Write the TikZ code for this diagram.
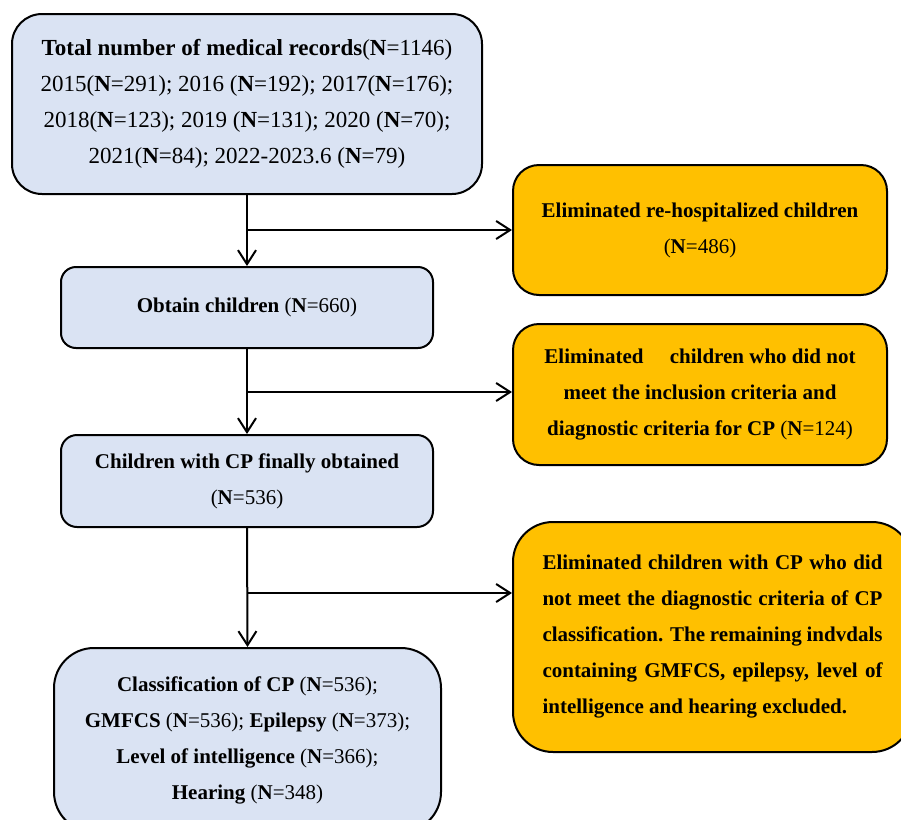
\documentclass[tikz,border=0pt]{standalone}
\usepackage{fontspec}
\setmainfont{Liberation Serif}
\usetikzlibrary{arrows.meta}
\definecolor{boxBlue}{HTML}{DAE3F3}
\definecolor{boxOrange}{HTML}{FFC000}
\begin{document}
\begin{tikzpicture}[x=0.5pt, y=-0.5pt, blueStyle/.style={rectangle, draw, line width=1pt, fill=boxBlue, align=center, font=\fontsize{10.5}{18}\selectfont}, orangeStyle/.style={rectangle, draw, line width=1pt, fill=boxOrange, align=center, font=\fontsize{10.5}{18}\selectfont\bfseries}, flowLine/.style={line width=1pt, -{Straight Barb[length=7pt, width=9pt, line width=1pt]}}]
    \useasboundingbox (0,0) rectangle (901,820);
    % left column
    \node[blueStyle, minimum width=235pt, minimum height=90pt, rounded corners=15pt, font=\fontsize{11.5}{18}\selectfont] (records) at (247,104) {\textbf{Total number of medical records}(\textbf{N}=1146)\\ 2015(\textbf{N}=291); 2016 (\textbf{N}=192); 2017(\textbf{N}=176);\\ 2018(\textbf{N}=123); 2019 (\textbf{N}=131); 2020 (\textbf{N}=70);\\ 2021(\textbf{N}=84); 2022-2023.6 (\textbf{N}=79)};
    \node[blueStyle, minimum width=186pt, minimum height=40.5pt, rounded corners=7.5pt] (obtained) at (247,307.5) {\textbf{Obtain children} (\textbf{N}=660)};
    \node[blueStyle, minimum width=186pt, minimum height=46pt, rounded corners=8pt] (finalCP) at (247,481) {\textbf{Children with CP finally obtained}\\ (\textbf{N}=536)};
    \node[blueStyle, minimum width=193.5pt, minimum height=92pt, rounded corners=20pt] (classes) at (247.5,740) {\textbf{Classification of CP} (\textbf{N}=536);\\ \textbf{GMFCS} (\textbf{N}=536); \textbf{Epilepsy} (\textbf{N}=373);\\ \textbf{Level of intelligence} (\textbf{N}=366);\\ \textbf{Hearing} (\textbf{N}=348)};
    % right column
    \node[orangeStyle, minimum width=187pt, minimum height=65pt, rounded corners=13pt] (rehosp) at (700,230) {Eliminated re-hospitalized children\\ \mdseries(\textbf{N}=486)};
    \node[orangeStyle, minimum width=187pt, minimum height=70.5pt, rounded corners=13pt] (criteria) at (700,394.5) {Eliminated\quad\ children who did not\\ meet the inclusion criteria and\\ diagnostic criteria for CP {\mdseries(\textbf{N}=124)}};
    \node[orangeStyle, minimum width=199.5pt, minimum height=115pt, rounded corners=20pt, text width=170pt, align=justify] (missing) at (712.5,637) {Eliminated children with CP who did\linebreak not meet the diagnostic criteria of CP\linebreak classification. The remaining indvdals\linebreak containing GMFCS, epilepsy, level of\linebreak intelligence and hearing excluded.};
    % connectors
    \coordinate (split1) at (247,230);
    \coordinate (split2) at (247,392);
    \coordinate (split3) at (247,593);
    \draw[flowLine] (records.south) -- (obtained.north);
    \draw[flowLine] (obtained.south) -- (finalCP.north);
    \draw[flowLine] (finalCP.south) -- (classes.north);
    \draw[flowLine] (split1) -- (rehosp.west);
    \draw[flowLine] (split2) -- (split2 -| criteria.west);
    \draw[flowLine] (split3) -- (split3 -| missing.west);
\end{tikzpicture}
\end{document}
